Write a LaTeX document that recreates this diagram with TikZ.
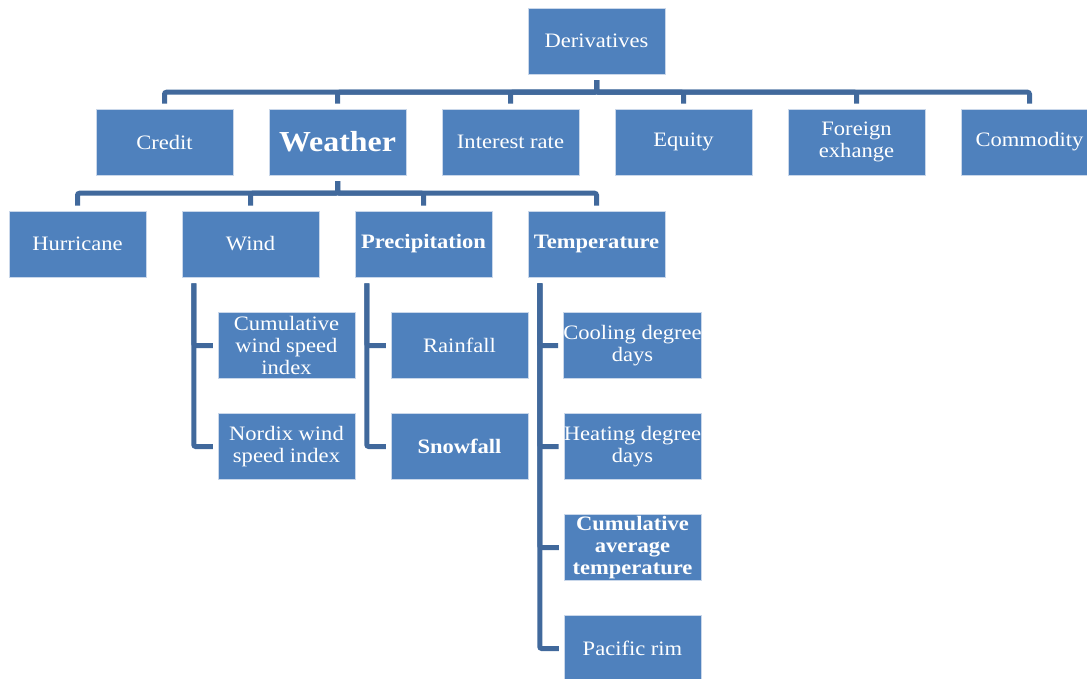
\documentclass[tikz,border=0pt]{standalone}
\usepackage{fontspec}
\setmainfont[FakeStretch=1.1]{Liberation Serif}
\definecolor{boxblue}{HTML}{4F81BD}
\definecolor{lineblue}{HTML}{41699C}
\definecolor{edge}{HTML}{C9D7EA}
\begin{document}
\begin{tikzpicture}[x=1pt,y=-1pt,
  box/.style={rectangle,fill=boxblue,draw=edge,line width=0.5pt,minimum width=137pt,minimum height=66pt,inner sep=0pt,text=white,align=center,font=\fontsize{20.5}{22}\selectfont},
  bbox/.style={box,font=\fontsize{20.5}{22}\selectfont\bfseries},
  conn/.style={draw=lineblue,line width=5pt,rounded corners=2pt}]
\clip (0,0) rectangle (1087,679);
\fill[white] (0,0) rectangle (1087,679);
% top
\node[box] (der) at (596.5,41) {Derivatives};
\node[box] (credit) at (164.5,142) {Credit};
\node[box,font=\fontsize{29}{30}\selectfont\bfseries] (weather) at (337.5,142) {Weather};
\node[box] (interest) at (510.5,142) {Interest rate};
\node[box] (equity) at (683.5,142) {Equity};
\node[box] (forex) at (856.5,142) {Foreign\\exhange};
\node[box] (commodity) at (1029.5,142) {Commodity};
% weather children
\node[box] (hurricane) at (77.5,244) {Hurricane};
\node[box] (wind) at (250.5,244) {Wind};
\node[bbox] (precip) at (423.5,244) {Precipitation};
\node[bbox] (temp) at (596.5,244) {Temperature};
% wind children
\node[box] (cws) at (286.5,345.5) {Cumulative\\wind speed\\index};
\node[box] (nordix) at (286.5,446.5) {Nordix wind\\speed index};
% precipitation children
\node[box] (rain) at (459.5,345.5) {Rainfall};
\node[bbox] (snow) at (459.5,446.5) {Snowfall};
% temperature children
\node[box] (cdd) at (632.5,345.5) {Cooling degree\\days};
\node[box] (hdd) at (632.5,446.5) {Heating degree\\days};
\node[bbox] (cat) at (632.5,547.5) {Cumulative\\average\\temperature};
\node[box] (pacific) at (632.5,648.5) {Pacific rim};
% connectors level 1
\foreach \c in {credit,weather,interest,equity,forex,commodity}
  \draw[conn] ([yshift=-6pt]der.south) -- ++(0,12) -| ([yshift=5pt]\c.north);
% connectors level 2
\foreach \c in {hurricane,wind,precip,temp}
  \draw[conn] ([yshift=-6pt]weather.south) -- ++(0,12) -| ([yshift=5pt]\c.north);
% side connectors
\foreach \p/\c in {wind/cws,wind/nordix,precip/rain,precip/snow,temp/cdd,temp/hdd,temp/cat,temp/pacific}
  \draw[conn] ([xshift=12pt,yshift=-6pt]\p.south west) |- ([xshift=-5pt]\c.west);
\end{tikzpicture}
\end{document}
